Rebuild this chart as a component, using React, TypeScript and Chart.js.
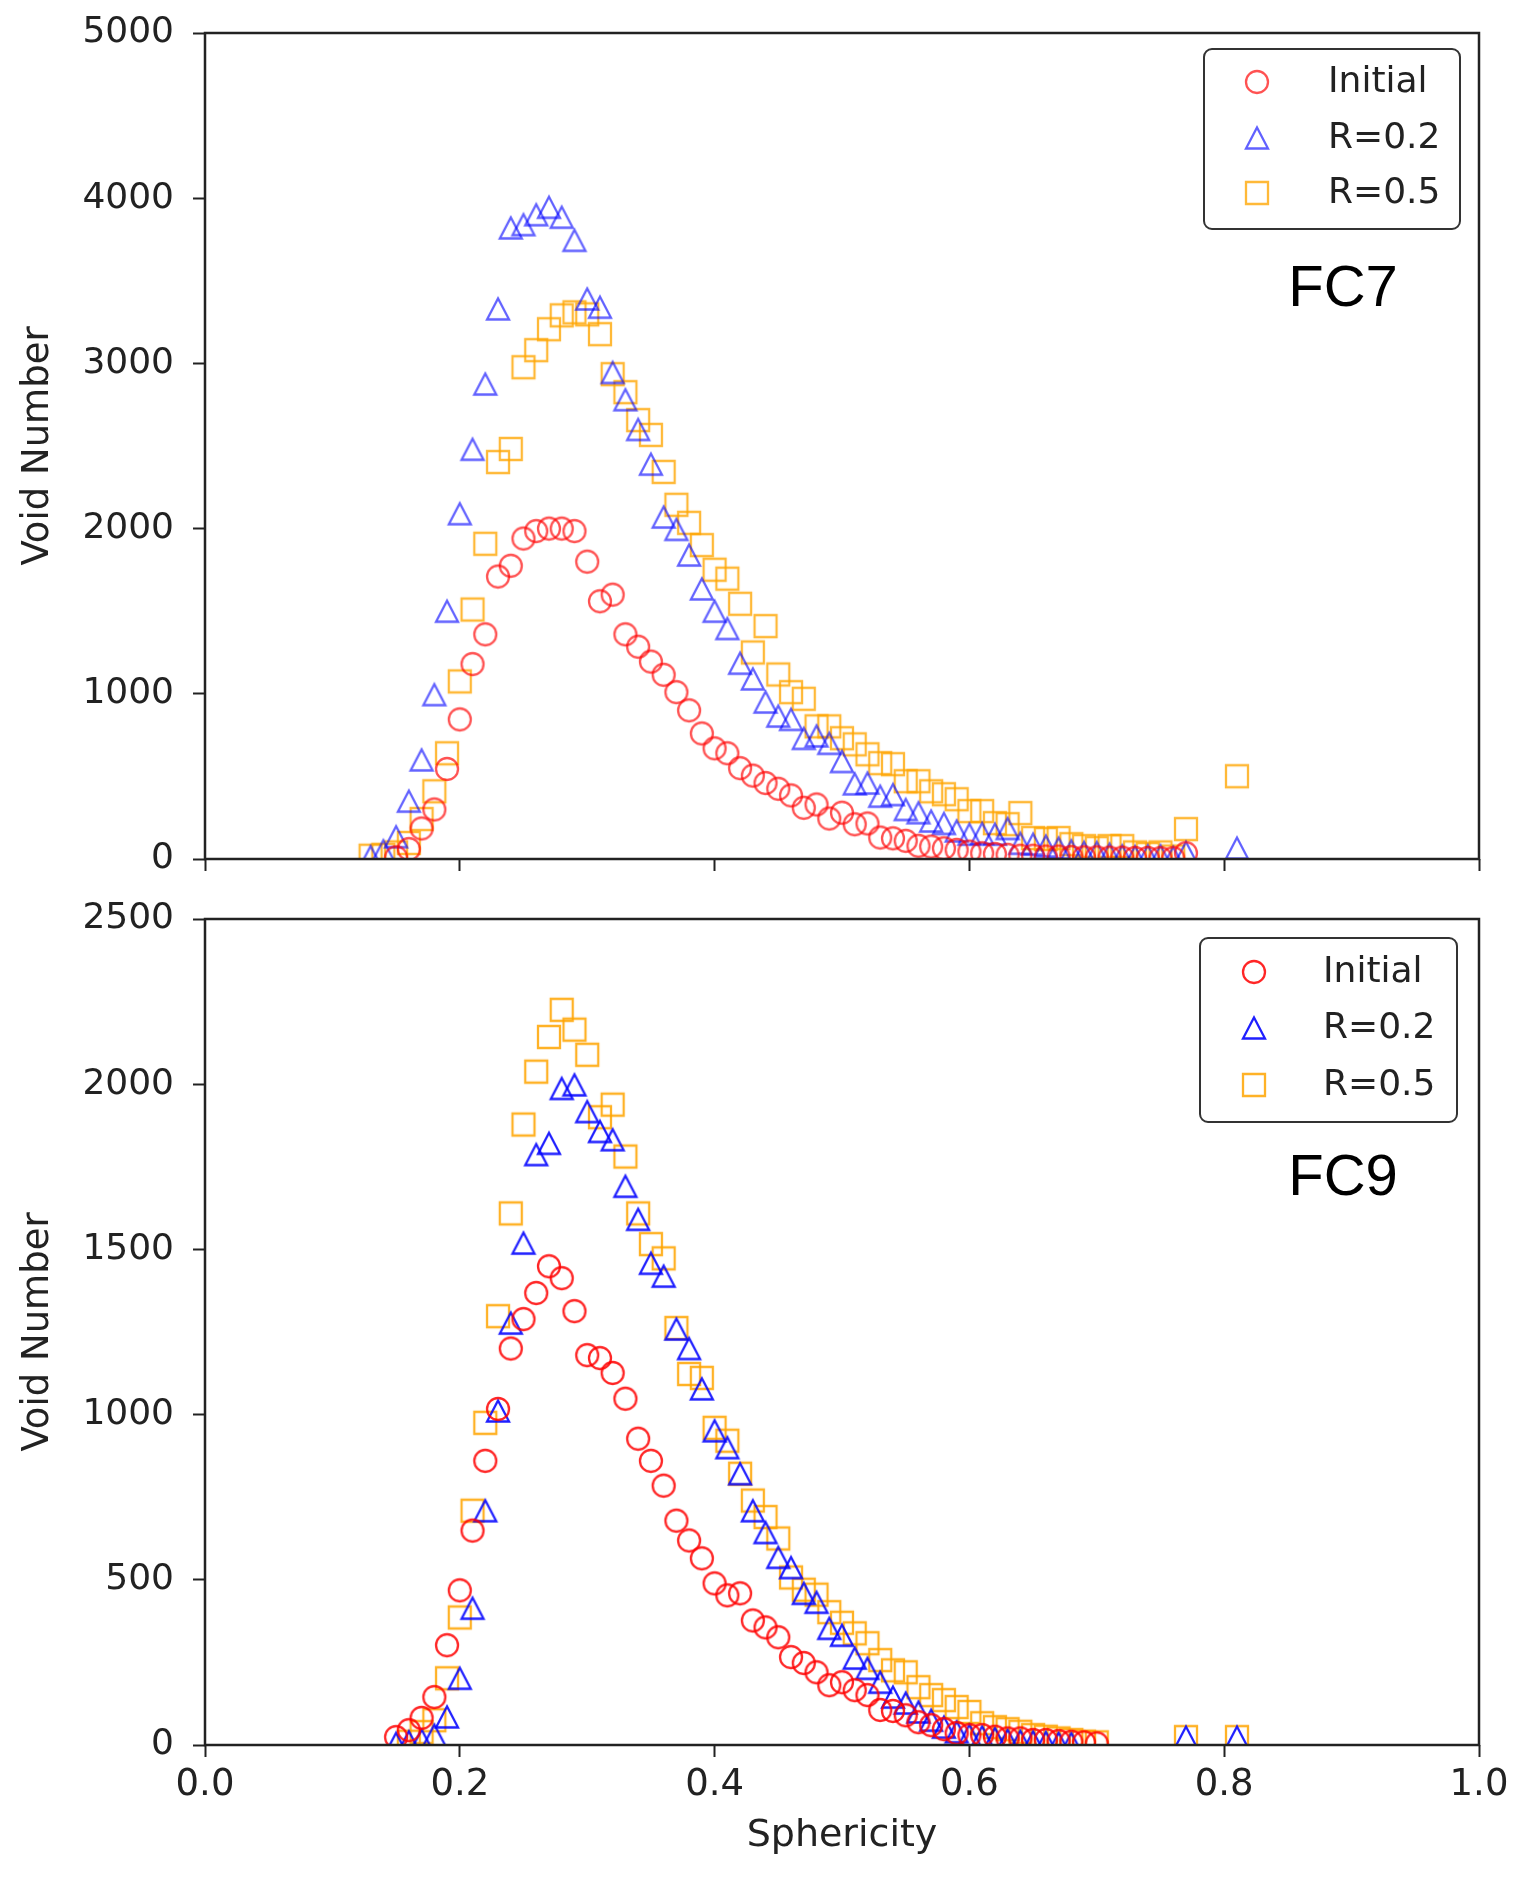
import React, { useEffect, useRef } from 'react';
import Chart from 'chart.js/auto';

// Sphericity bins (x positions)
const SPHERICITY = [
  0.13, 0.14, 0.15, 0.16, 0.17, 0.18, 0.19, 0.20, 0.21, 0.22,
  0.23, 0.24, 0.25, 0.26, 0.27, 0.28, 0.29, 0.30, 0.31, 0.32,
  0.33, 0.34, 0.35, 0.36, 0.37, 0.38, 0.39, 0.40, 0.41, 0.42,
  0.43, 0.44, 0.45, 0.46, 0.47, 0.48, 0.49, 0.50, 0.51, 0.52,
  0.53, 0.54, 0.55, 0.56, 0.57, 0.58, 0.59, 0.60, 0.61, 0.62,
  0.63, 0.64, 0.65, 0.66, 0.67, 0.68, 0.69, 0.70, 0.71, 0.72,
  0.73, 0.74, 0.75, 0.76, 0.77, 0.78, 0.79, 0.80, 0.81,
];

const SERIES_LABELS = ['Initial', 'R=0.2', 'R=0.5'];

// FC7 panel
const FC7_INITIAL = [
  null, null, 10, 60, 185, 300, 545, 845, 1180, 1360,
  1710, 1775, 1940, 1985, 2000, 2000, 1985, 1800, 1560, 1600,
  1360, 1285, 1195, 1115, 1010, 900, 760, 670, 640, 550,
  505, 460, 425, 385, 310, 330, 245, 280, 210, 215,
  130, 125, 110, 80, 75, 65, 55, 45, 35, 30,
  25, 20, 20, 15, 15, 12, 10, 10, 8, 8,
  6, 6, 5, 5, 35, null, null, null, null,
];
const FC7_R02 = [
  15, 50, 135, 350, 600, 995, 1500, 2090, 2480, 2875,
  3330, 3820, 3840, 3900, 3945, 3885, 3745, 3390, 3340, 2945,
  2780, 2600, 2390, 2070, 1995, 1840, 1635, 1500, 1395, 1185,
  1090, 950, 865, 845, 730, 745, 700, 590, 455, 460,
  380, 390, 300, 280, 230, 215, 170, 150, 155, 150,
  185, 95, 90, 78, 66, 50, 40, 40, 30, 20,
  15, 20, 20, 10, 40, null, null, null, 66,
];
const FC7_R05 = [
  20, 25, 40, 97, 242, 410, 640, 1075, 1510, 1908,
  2403, 2482, 2977, 3080, 3207, 3291, 3309, 3297, 3177, 2935,
  2826, 2657, 2567, 2343, 2144, 2035, 1900, 1751, 1697, 1545,
  1250, 1410, 1117, 1010, 970, 803, 803, 731, 694, 634,
  580, 574, 471, 471, 410, 392, 362, 290, 290, 217,
  211, 278, 127, 121, 127, 90, 78, 66, 78, 78,
  40, 30, 40, 15, 181, null, null, null, 501,
];

// FC9 panel
const FC9_INITIAL = [
  null, null, 24, 45, 82, 145, 302, 468, 649, 860,
  1017, 1200, 1289, 1368, 1449, 1413, 1313, 1180, 1171, 1126,
  1048, 927, 860, 785, 679, 619, 565, 489, 453, 459,
  377, 356, 326, 266, 248, 220, 181, 190, 166, 151,
  106, 103, 90, 69, 60, 48, 36, 30, 30, 25,
  20, 20, 15, 15, 12, 10, 8, 5, null, null,
  null, null, null, null, null, null, null, null, null,
];
const FC9_R02 = [
  null, null, 5, 10, 15, 30, 85, 202, 414, 709,
  1011, 1277, 1519, 1787, 1821, 1987, 1998, 1917, 1857, 1832,
  1691, 1591, 1458, 1419, 1259, 1200, 1078, 951, 900, 821,
  709, 643, 568, 537, 459, 432, 353, 332, 263, 232,
  190, 145, 127, 100, 75, 54, 40, 30, 25, 20,
  15, 12, 10, 8, 6, 5, null, null, null, null,
  null, null, null, null, 24, null, null, null, 24,
];
const FC9_R05 = [
  null, null, null, 10, 39, 75, 202, 386, 709, 975,
  1298, 1609, 1878, 2038, 2143, 2225, 2165, 2089, 1900, 1938,
  1781, 1609, 1516, 1473, 1262, 1123, 1111, 960, 921, 821,
  740, 690, 625, 507, 470, 455, 402, 370, 338, 308,
  257, 226, 220, 175, 151, 136, 115, 100, 66, 54,
  48, 40, 30, 25, 20, 15, 10, 8, null, null,
  null, null, null, null, 24, null, null, null, 24,
];

const X_TICKS = [0, 0.2, 0.4, 0.6, 0.8, 1.0];
const FC7_Y_TICKS = [0, 1000, 2000, 3000, 4000, 5000];
const FC9_Y_TICKS = [0, 500, 1000, 1500, 2000, 2500];

type Shape = 'circle' | 'triangle' | 'square';

function makeMarker(shape: Shape, color: string): HTMLCanvasElement {
  const c = document.createElement('canvas');
  c.width = 30;
  c.height = 30;
  const ctx = c.getContext('2d')!;
  ctx.strokeStyle = color;
  ctx.lineWidth = 2.3;
  ctx.lineJoin = 'miter';
  const cx = 15, cy = 15;
  ctx.beginPath();
  if (shape === 'circle') {
    ctx.arc(cx, cy, 11, 0, Math.PI * 2);
  } else if (shape === 'square') {
    ctx.rect(cx - 11, cy - 11, 22, 22);
  } else {
    const h = 10.5;
    ctx.moveTo(cx, cy - h);
    ctx.lineTo(cx + h + 0.5, cy + h);
    ctx.lineTo(cx - h - 0.5, cy + h);
    ctx.closePath();
  }
  ctx.stroke();
  return c;
}

const toPoints = (vals: (number | null)[]) =>
  SPHERICITY.map((x, i) => ({ x, y: vals[i] })).filter((p) => p.y !== null) as { x: number; y: number }[];

interface PanelSpec {
  name: string;
  series: (number | null)[][];
  yMax: number;
  yTicks: number[];
  colors: string[];
  padTop: number;
  xHeight: number;
  showXLabels: boolean;
  legendBox: [number, number, number, number];
  legendMarkerX: number;
  legendTextX: number;
  legendRows: number[];
  tagX: number;
  tagY: number;
}

function buildChart(canvas: HTMLCanvasElement, spec: PanelSpec) {
  const shapes: Shape[] = ['circle', 'triangle', 'square'];
  const markers = shapes.map((s, i) => makeMarker(s, spec.colors[i]));

  const decor = {
    id: 'decor',
    afterDatasetsDraw(chart: any) {
      const { ctx, chartArea } = chart;
      ctx.save();
      ctx.strokeStyle = '#222';
      ctx.lineWidth = 2.5;
      ctx.strokeRect(chartArea.left, chartArea.top, chartArea.right - chartArea.left, chartArea.bottom - chartArea.top);
      ctx.restore();
    },
    afterDraw(chart: any) {
      const { ctx } = chart;
      ctx.save();
      const [x0, y0, x1, y1] = spec.legendBox;
      ctx.beginPath();
      (ctx as any).roundRect(x0, y0, x1 - x0, y1 - y0, 8);
      ctx.fillStyle = 'rgba(255,255,255,0.9)';
      ctx.fill();
      ctx.strokeStyle = '#333';
      ctx.lineWidth = 2;
      ctx.stroke();
      ctx.font = '36px "DejaVu Sans"';
      ctx.fillStyle = '#222';
      ctx.textBaseline = 'middle';
      ctx.textAlign = 'left';
      SERIES_LABELS.forEach((lab, i) => {
        const yy = spec.legendRows[i];
        const m = markers[i];
        ctx.drawImage(m, spec.legendMarkerX - m.width / 2, yy - m.height / 2);
        ctx.fillText(lab, spec.legendTextX, yy + 1);
      });
      ctx.font = '58px "Liberation Sans", Arial, sans-serif';
      ctx.fillStyle = '#000';
      ctx.textAlign = 'center';
      ctx.fillText(spec.name, spec.tagX, spec.tagY);
      ctx.restore();
    },
  };

  return new Chart(canvas, {
    type: 'scatter',
    data: {
      datasets: spec.series.map((vals, i) => ({
        label: SERIES_LABELS[i],
        data: toPoints(vals),
        pointStyle: markers[i] as any,
        pointRadius: 12,
        pointHoverRadius: 12,
        showLine: false,
        clip: 0 as any,
      })),
    },
    options: {
      animation: false,
      responsive: false,
      maintainAspectRatio: false,
      events: [],
      layout: { padding: { top: spec.padTop, right: 42, left: 0, bottom: 0 } },
      plugins: { legend: { display: false }, tooltip: { enabled: false } },
      scales: {
        x: {
          type: 'linear',
          min: 0,
          max: 1,
          afterBuildTicks: (axis: any) => {
            axis.ticks = X_TICKS.map((v) => ({ value: v }));
          },
          afterFit: (axis: any) => {
            axis.height = spec.xHeight;
            axis.paddingLeft = 0;
            axis.paddingRight = 0;
            axis.paddingTop = 0;
            axis.paddingBottom = 0;
          },
          ticks: {
            display: true,
            padding: 6,
            color: '#222',
            font: { family: 'DejaVu Sans', size: 37 },
            maxRotation: 0,
            autoSkip: false,
            callback: (v: any) => (spec.showXLabels ? Number(v).toFixed(1) : ''),
          },
          grid: {
            display: true,
            drawOnChartArea: false,
            drawTicks: true,
            tickLength: 12,
            tickWidth: 2,
            tickColor: '#222',
            color: '#222',
          },
          border: { display: false },
          title: {
            display: spec.showXLabels,
            text: 'Sphericity',
            color: '#222',
            font: { family: 'DejaVu Sans', size: 38 },
            padding: { top: 0, bottom: 20 },
          },
        },
        y: {
          type: 'linear',
          min: 0,
          max: spec.yMax,
          afterBuildTicks: (axis: any) => {
            axis.ticks = spec.yTicks.map((v) => ({ value: v }));
          },
          afterFit: (axis: any) => {
            axis.width = 205;
            axis.paddingTop = 0;
            axis.paddingBottom = 0;
            axis.paddingLeft = 0;
            axis.paddingRight = 0;
          },
          ticks: {
            padding: 19,
            color: '#222',
            font: { family: 'DejaVu Sans', size: 36 },
            autoSkip: false,
            callback: (v: any) => String(v),
          },
          grid: {
            display: true,
            drawOnChartArea: false,
            drawTicks: true,
            tickLength: 12,
            tickWidth: 2,
            tickColor: '#222',
            color: '#222',
          },
          border: { display: false },
          title: {
            display: true,
            text: 'Void Number',
            color: '#222',
            font: { family: 'DejaVu Sans', size: 37 },
            padding: { top: 16, bottom: 0 },
          },
        },
      },
    },
    plugins: [decor],
  } as any);
}

export default function App() {
  const topRef = useRef<HTMLCanvasElement>(null);
  const botRef = useRef<HTMLCanvasElement>(null);

  useEffect(() => {
    const top = buildChart(topRef.current!, {
      name: 'FC7',
      series: [FC7_INITIAL, FC7_R02, FC7_R05],
      yMax: 5000,
      yTicks: FC7_Y_TICKS,
      colors: ['rgba(255,0,0,0.68)', 'rgba(0,0,255,0.62)', 'rgba(255,165,0,0.78)'],
      padTop: 33,
      xHeight: 21,
      showXLabels: false,
      legendBox: [1204, 49, 1460, 229],
      legendMarkerX: 1257,
      legendTextX: 1328,
      legendRows: [82, 138, 193],
      tagX: 1343,
      tagY: 290,
    });
    const bot = buildChart(botRef.current!, {
      name: 'FC9',
      series: [FC9_INITIAL, FC9_R02, FC9_R05],
      yMax: 2500,
      yTicks: FC9_Y_TICKS,
      colors: ['rgba(255,0,0,0.85)', 'rgba(0,0,255,0.88)', 'rgba(255,165,0,0.85)'],
      padTop: 39,
      xHeight: 134,
      showXLabels: true,
      legendBox: [1200, 58, 1457, 242],
      legendMarkerX: 1254,
      legendTextX: 1323,
      legendRows: [92, 148, 205],
      tagX: 1343,
      tagY: 299,
    });
    return () => {
      top.destroy();
      bot.destroy();
    };
  }, []);

  return (
    <div style={{ position: 'absolute', left: 0, top: 0, width: 1521, height: 1879, background: '#fff' }}>
      <canvas ref={topRef} width={1521} height={880} style={{ position: 'absolute', left: 0, top: 0 }} />
      <canvas ref={botRef} width={1521} height={999} style={{ position: 'absolute', left: 0, top: 880 }} />
    </div>
  );
}
